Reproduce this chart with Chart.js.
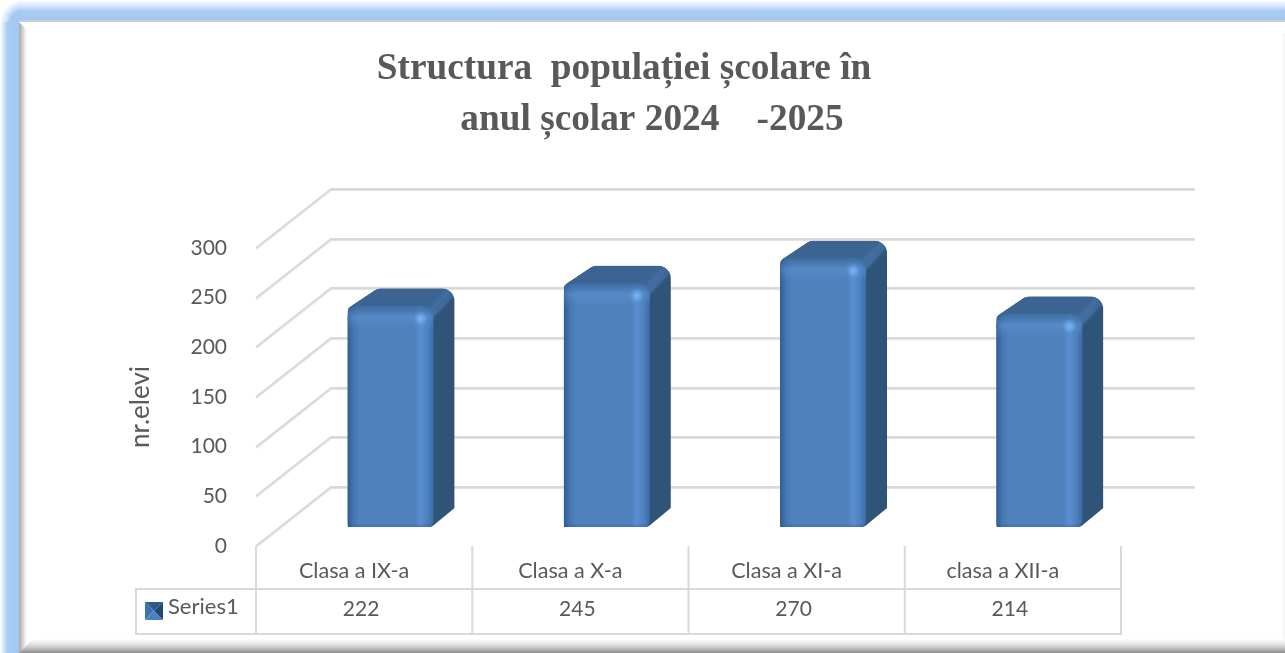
<!DOCTYPE html>
<html lang="ro">
<head>
<meta charset="utf-8">
<title>Structura populației școlare</title>
<script src="https://cdn.jsdelivr.net/npm/chart.js@4/dist/chart.umd.min.js"></script>
<style>
html,body{margin:0;padding:0;background:#fff;width:1285px;height:653px;overflow:hidden}
#wrap{position:relative;width:1285px;height:653px}
.f{position:absolute}
#top{left:0;top:0;width:1285px;height:20px;background:linear-gradient(to bottom,#fff 0,#dceafb 5px,#a9ccf4 11px,#a3c8f2 20px)}
#topline{left:19px;top:20px;width:1266px;height:2px;background:#cdcdcd}
#left{left:0;top:0;width:19px;height:653px;background:linear-gradient(to right,#fff 0,#dceafb 3px,#a9ccf4 7px,#a3c8f2 19px);
 -webkit-mask-image:linear-gradient(to bottom,transparent 0,#000 16px);mask-image:linear-gradient(to bottom,transparent 0,#000 16px)}
#corner{left:0;top:0;width:22px;height:22px;background:radial-gradient(circle at 100% 100%,#a3c8f2 0,#a3c8f2 11px,#dceafb 17px,#fff 22px)}
#leftbevel{left:19px;top:22px;width:8px;height:631px;background:linear-gradient(to right,#a9a9a9 0,#bdbdbd 2px,#e2e2e2 5px,#fff 8px);clip-path:polygon(0 0,100% 8px,100% 100%,0 100%)}
#bottom{left:19px;top:639px;width:1266px;height:14px;background:linear-gradient(to bottom,#fff 0,#e6e6e6 5px,#c4c4c4 9px,#8d8d8d 14px);clip-path:polygon(14px 0,100% 0,100% 100%,0 100%)}
#right{left:1283px;top:33px;width:2px;height:606px;background:#f5f5f5}
#c{position:absolute;left:0;top:0}
</style>
</head>
<body>
<div id="wrap">
<div class="f" id="top"></div>
<div class="f" id="left"></div>
<div class="f" id="corner"></div>
<div class="f" id="topline"></div>
<div class="f" id="leftbevel"></div>
<div class="f" id="right"></div>
<div class="f" id="bottom"></div>
<canvas id="c" width="1285" height="653"></canvas>
</div>
<script>
const titleLines = ['Structura  populației școlare în', '\u00A0\u00A0\u00A0\u00A0\u00A0\u00A0anul școlar 2024    -2025'];
const categories = ['Clasa a IX-a', 'Clasa a X-a', 'Clasa a XI-a', 'clasa a XII-a'];
const seriesName = 'Series1';
const seriesValues = [222, 245, 270, 214];
const yAxisTitle = 'nr.elevi\u00A0\u00A0\u00A0';
const yMax = 300, yStep = 50;

const TEXT = '#595959', GRID = '#d9d9d9', FONT = 'Lato';
const WALL = {dx: 75, dy: -59};          // depth of the 3-D floor and side wall
const BAR = {dx: 26.5, dy: -19, ex: 21, ey: -18, w: 86};  // bar inset and extrusion

function roundPoly(ctx, pts, r) {
  const n = pts.length;
  const rad = i => Array.isArray(r) ? r[i] : r;
  const a = pts[n - 1], b = pts[0];
  ctx.beginPath();
  ctx.moveTo((a[0] + b[0]) / 2, (a[1] + b[1]) / 2);
  for (let i = 0; i < n; i++) {
    const p = pts[i], q = pts[(i + 1) % n];
    ctx.arcTo(p[0], p[1], q[0], q[1], rad(i));
  }
  ctx.closePath();
}

const threeD = {
  id: 'threeD',
  afterLayout(chart) {
    // the two-line title sits left of the plot's centre in the reference
    chart.titleBlock.left = 0;
    chart.titleBlock.right = 1248;
  },
  beforeDatasetsDraw(chart) {
    const {ctx, scales: {x, y}, chartArea: a} = chart;
    ctx.save();
    ctx.strokeStyle = GRID;
    ctx.lineWidth = 2;
    ctx.lineJoin = 'round';
    ctx.shadowColor = 'rgba(0,0,0,.12)';
    ctx.shadowOffsetY = 1;
    ctx.shadowBlur = 1;
    y.ticks.forEach(t => {
      const py = Math.round(y.getPixelForValue(t.value));
      ctx.beginPath();
      ctx.moveTo(a.left, py);
      ctx.lineTo(a.left + WALL.dx, py + WALL.dy);
      ctx.lineTo(a.right + WALL.dx - 1, py + WALL.dy);
      ctx.stroke();
    });
    ctx.restore();
  },
  beforeDatasetDraw(chart, args) {
    const {ctx} = chart;
    ctx.save();
    ctx.translate(BAR.dx, BAR.dy);
    const base = chart.scales.y.getPixelForValue(0);
    chart.getDatasetMeta(args.index).data.forEach(el => {
      const l = el.x - BAR.w / 2, r = el.x + BAR.w / 2, t = el.y;
      const topY = t + BAR.ey, backR = r + BAR.ex;
      ctx.save();
      // outline of the extruded body behind the front face
      roundPoly(ctx, [[l, t + 2], [l + 30, topY], [backR, topY], [backR, base - 19], [r - 2, base], [l, base]], [6, 10, 13, 1, 5, 0]);
      ctx.clip();
      // side face
      ctx.fillStyle = '#305378';
      ctx.fillRect(l, topY, backR - l, base - topY);
      // top face
      ctx.beginPath();
      ctx.moveTo(l, t + 14);
      ctx.lineTo(l, topY);
      ctx.lineTo(backR, topY);
      ctx.lineTo(r - 6, t + 8);
      ctx.lineTo(r - 6, t + 14);
      ctx.closePath();
      ctx.fillStyle = '#3b6493';
      ctx.fill();
      // soft ridge where top and side meet
      ctx.lineCap = 'round';
      const gr = ctx.createLinearGradient(r, t, backR, topY);
      gr.addColorStop(0, 'rgba(66,110,160,.9)');
      gr.addColorStop(1, 'rgba(66,110,160,.5)');
      ctx.strokeStyle = gr;
      ctx.lineWidth = 9;
      ctx.shadowColor = 'rgba(66,110,160,.7)';
      ctx.shadowBlur = 5;
      ctx.beginPath();
      ctx.moveTo(r - 2, t + 6);
      ctx.lineTo(backR - 5, topY + 5);
      ctx.stroke();
      ctx.restore();
    });
  },
  afterDatasetDraw(chart, args) {
    const {ctx} = chart;
    const base = chart.scales.y.getPixelForValue(0);
    chart.getDatasetMeta(args.index).data.forEach(el => {
      const l = el.x - BAR.w / 2, r = el.x + BAR.w / 2, t = el.y;
      ctx.save();
      roundPoly(ctx, [[l, t], [r, t], [r, base], [l, base]], [11, 11, 6, 3]);
      ctx.clip();
      const g = ctx.createLinearGradient(0, t, 0, t + 26);
      g.addColorStop(0, 'rgba(56,100,154,.8)');
      g.addColorStop(.2, 'rgba(70,116,174,.5)');
      g.addColorStop(.46, 'rgba(104,160,226,.3)');
      g.addColorStop(1, 'rgba(79,129,189,0)');
      ctx.fillStyle = g;
      ctx.fillRect(l, t, BAR.w, 26);
      const h = ctx.createRadialGradient(r - 13, t + 12, 0, r - 13, t + 12, 7);
      h.addColorStop(0, 'rgba(125,185,250,.85)');
      h.addColorStop(1, 'rgba(125,185,250,0)');
      ctx.fillStyle = h;
      ctx.fillRect(r - 22, t + 3, 18, 18);
      const b = ctx.createLinearGradient(0, base - 4, 0, base);
      b.addColorStop(0, 'rgba(40,80,130,0)');
      b.addColorStop(1, 'rgba(40,80,130,.3)');
      ctx.fillStyle = b;
      ctx.fillRect(l, base - 4, BAR.w, 4);
      ctx.restore();
    });
    ctx.restore();
  },
  afterDraw(chart) {
    const {ctx, scales: {x}, chartArea: a} = chart;
    const rowTop = 589, rowBottom = 634, keyLeft = 136;
    const bounds = [a.left];
    categories.forEach((c, i) => bounds.push(a.left + (a.right - a.left) * (i + 1) / categories.length));
    ctx.save();
    ctx.strokeStyle = GRID;
    ctx.lineWidth = 2;
    bounds.forEach(bx => {
      ctx.beginPath(); ctx.moveTo(bx, a.bottom); ctx.lineTo(bx, rowBottom); ctx.stroke();
    });
    ctx.beginPath();
    ctx.moveTo(a.right + 1, rowTop); ctx.lineTo(keyLeft, rowTop);
    ctx.lineTo(keyLeft, rowBottom); ctx.lineTo(a.right + 1, rowBottom);
    ctx.stroke();
    // legend key
    const kx = 145, ky = 602, ks = 18, c = [kx + ks / 2, ky + ks / 2];
    const tri = (p1, p2, col) => {
      ctx.beginPath(); ctx.moveTo(...p1); ctx.lineTo(...p2); ctx.lineTo(...c); ctx.closePath();
      ctx.fillStyle = col; ctx.fill();
    };
    tri([kx, ky], [kx + ks, ky], '#2f5b8c');
    tri([kx + ks, ky], [kx + ks, ky + ks], '#27486e');
    tri([kx, ky + ks], [kx, ky], '#3f72ae');
    tri([kx + ks, ky + ks], [kx, ky + ks], '#4a7fc0');
    // table text
    ctx.fillStyle = TEXT;
    ctx.font = '22px ' + FONT;
    ctx.textBaseline = 'middle';
    ctx.textAlign = 'left';
    ctx.fillText(seriesName, 168, 607);
    ctx.font = '21px ' + FONT;
    ctx.textAlign = 'center';
    seriesValues.forEach((v, i) => ctx.fillText(String(v), x.getPixelForValue(i) - 3, 609));
    ctx.restore();
  }
};

new Chart(document.getElementById('c'), {
  type: 'bar',
  plugins: [threeD],
  data: {
    labels: categories,
    datasets: [{
      label: seriesName,
      data: seriesValues,
      clip: false,
      barPercentage: 1,
      categoryPercentage: 86 / 216.25,
      borderSkipped: false,
      borderRadius: {topLeft: 11, topRight: 11, bottomLeft: 3, bottomRight: 6},
      backgroundColor(ctx) {
        if (ctx.dataIndex === undefined || !ctx.chart.scales.x) return '#4f81bd';
        const cx = ctx.chart.scales.x.getPixelForValue(ctx.dataIndex);
        if (!Number.isFinite(cx)) return '#4f81bd';
        const g = ctx.chart.ctx.createLinearGradient(cx - 43, 0, cx + 43, 0);
        g.addColorStop(0, '#2e5d92');
        g.addColorStop(.07, '#4677b3');
        g.addColorStop(.14, '#4f81bd');
        g.addColorStop(.78, '#4f81bd');
        g.addColorStop(.85, '#5a90d2');
        g.addColorStop(.94, '#4a7ebc');
        g.addColorStop(1, '#3a6aa2');
        return g;
      }
    }]
  },
  options: {
    responsive: false,
    animation: false,
    events: [],
    layout: {padding: {top: 44, right: 164, bottom: 0, left: 0}},
    plugins: {
      legend: {display: false},
      tooltip: {enabled: false},
      title: {
        display: true,
        text: titleLines,
        color: TEXT,
        font: {family: 'Liberation Serif', size: 37.3, weight: 'bold', lineHeight: 51 / 37.3},
        padding: {top: 0, bottom: 102}
      }
    },
    scales: {
      x: {
        grid: {display: false, drawTicks: false},
        border: {display: false},
        afterFit(s) { s.height = 107; },
        ticks: {color: TEXT, font: {family: FONT, size: 21.6}, padding: 12, labelOffset: -10, maxRotation: 0, minRotation: 0, autoSkip: false}
      },
      y: {
        min: 0,
        max: yMax,
        grid: {display: false, drawTicks: false},
        border: {display: false},
        afterFit(s) { s.width = 256; },
        ticks: {stepSize: yStep, color: TEXT, padding: 29, font: {family: FONT, size: 21}},
        title: {display: true, text: yAxisTitle, color: TEXT, font: {family: FONT, size: 26}, padding: {top: 125, bottom: 0}}
      }
    }
  }
});
</script>
</body>
</html>
